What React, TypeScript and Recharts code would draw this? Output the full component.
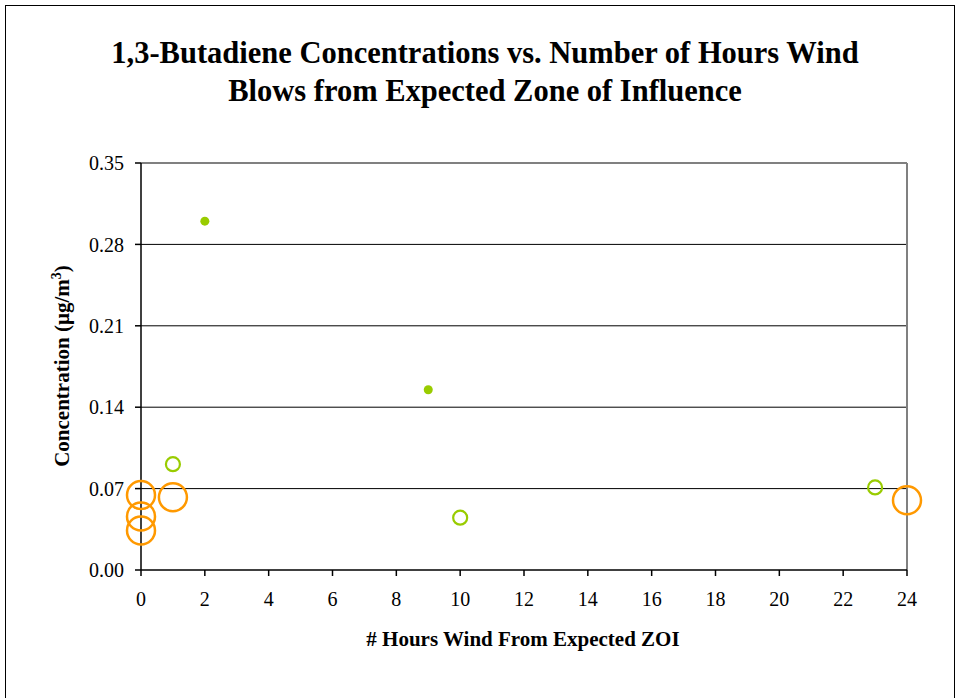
import React from 'react';
import { ScatterChart, Scatter, XAxis, YAxis, CartesianGrid, ReferenceLine } from 'recharts';

// hours of wind from the expected zone of influence vs concentration
const filledHours = [2, 9];
const filledConc = [0.3, 0.155];

const hollowHours = [1, 10, 23];
const hollowConc = [0.091, 0.045, 0.071];

const bigHours = [0, 0, 0, 1, 24];
const bigConc = [0.0645, 0.046, 0.034, 0.0625, 0.06];

const xTicks = [0, 2, 4, 6, 8, 10, 12, 14, 16, 18, 20, 22, 24];
const yTicks = [0, 0.07, 0.14, 0.21, 0.28, 0.35];

const toPoints = (xs: number[], ys: number[]) => xs.map((x, i) => ({ x, y: ys[i] }));

const FONT = '"Liberation Serif", "Times New Roman", serif';
const GREEN = '#99CC00';
const ORANGE = '#FF9900';

const FilledDot = (p: any) => <circle cx={p.cx} cy={p.cy} r={4.5} fill={GREEN} />;
const HollowDot = (p: any) => (
  <circle cx={p.cx} cy={p.cy} r={7} fill="none" stroke={GREEN} strokeWidth={2.2} />
);
const BigDot = (p: any) => (
  <circle cx={p.cx} cy={p.cy} r={14} fill="none" stroke={ORANGE} strokeWidth={2.5} />
);

const App: React.FC = () => {
  return (
    <div style={{ position: 'absolute', left: 0, top: 0, width: 960, height: 698, background: '#fff', fontFamily: FONT }}>
      <div
        style={{
          position: 'absolute',
          left: 5,
          top: 5,
          width: 948,
          height: 720,
          border: '1.5px solid #000',
        }}
      />
      <div
        style={{
          position: 'absolute',
          left: 0,
          top: 34,
          width: 970,
          textAlign: 'center',
          fontWeight: 'bold',
          fontSize: 30.5,
          lineHeight: '38px',
        }}
      >
        1,3-Butadiene Concentrations vs. Number of Hours Wind
        <br />
        Blows from Expected Zone of Influence
      </div>
      <div style={{ position: 'absolute', left: 0, top: 0 }}>
        <ScatterChart width={960} height={698} margin={{ top: 163, right: 53, bottom: 0, left: 0 }}>
          <CartesianGrid
            horizontal
            vertical={false}
            stroke="#000"
            strokeWidth={1}
            horizontalValues={[0.07, 0.14, 0.21, 0.28]}
          />
          <XAxis
            type="number"
            dataKey="x"
            domain={[0, 24]}
            ticks={xTicks}
            height={128}
            stroke="#000"
            strokeWidth={1.5}
            tickSize={6}
            tick={{ fill: '#000', fontSize: 20, fontFamily: FONT }}
            tickMargin={16}
          />
          <YAxis
            type="number"
            dataKey="y"
            domain={[0, 0.35]}
            ticks={yTicks}
            width={141}
            stroke="#000"
            strokeWidth={1.5}
            tickSize={6}
            tickMargin={11}
            tick={{ fill: '#000', fontSize: 20, fontFamily: FONT }}
            tickFormatter={(v: number) => v.toFixed(2)}
          />
          <ReferenceLine y={0.35} stroke="#808080" strokeWidth={2} />
          <ReferenceLine x={24} stroke="#808080" strokeWidth={2} />
          <Scatter data={toPoints(filledHours, filledConc)} shape={FilledDot} isAnimationActive={false} />
          <Scatter data={toPoints(hollowHours, hollowConc)} shape={HollowDot} isAnimationActive={false} />
          <Scatter data={toPoints(bigHours, bigConc)} shape={BigDot} isAnimationActive={false} />
        </ScatterChart>
      </div>
      <div
        style={{
          position: 'absolute',
          left: 523 - 250,
          top: 627,
          width: 500,
          textAlign: 'center',
          fontWeight: 'bold',
          fontSize: 21,
        }}
      >
        # Hours Wind From Expected ZOI
      </div>
      <div
        style={{
          position: 'absolute',
          left: 62 - 150,
          top: 353,
          width: 300,
          textAlign: 'center',
          fontWeight: 'bold',
          fontSize: 21,
          transform: 'rotate(-90deg)',
          whiteSpace: 'nowrap',
        }}
      >
        Concentration (µg/m<sup style={{ fontSize: 14 }}>3</sup>)
      </div>
    </div>
  );
};

export default App;
